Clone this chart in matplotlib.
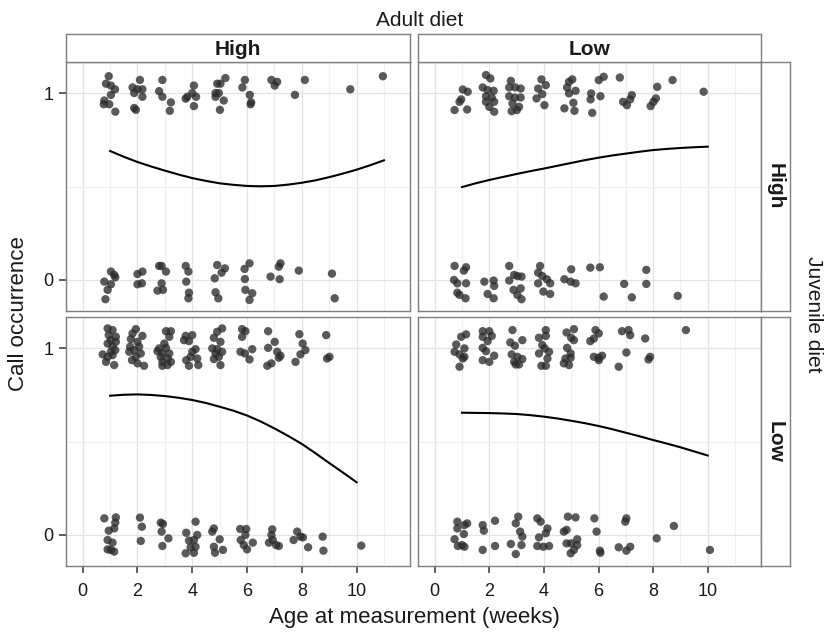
import matplotlib
matplotlib.use('Agg')
import matplotlib.pyplot as plt

plt.rcParams['font.family'] = ['Liberation Sans', 'DejaVu Sans']

# ---------------- data ----------------
adult_levels = ['High', 'Low']
juvenile_levels = ['High', 'Low']
x_ticks = [0, 2, 4, 6, 8, 10]
x_tick_labels = ['0', '2', '4', '6', '8', '10']
y_ticks = [0, 1]
y_tick_labels = ['0', '1']

# jittered observations (age in weeks, call occurrence) per panel
# adult High / juvenile High
pts_aH_jH = [
    (0.95, 1.09), (0.85, 1.05), (1.03, 1.04), (1.18, 1.02), (1.03, 0.99), (0.79, 0.96), (0.77, 0.94),
    (0.97, 0.94), (1.19, 0.90), (2.09, 1.07), (1.82, 1.03), (2.00, 1.02), (2.18, 1.02), (1.88, 1.00),
    (2.18, 0.98), (1.94, 0.91), (1.88, 0.92), (2.91, 1.07), (2.79, 1.01), (2.91, 0.98), (3.22, 0.95),
    (3.18, 0.905), (4.06, 1.04), (3.82, 0.98), (4.00, 1.00), (4.14, 0.98), (4.06, 0.93), (3.76, 0.97),
    (4.91, 1.05), (5.03, 1.05), (5.21, 1.08), (4.85, 1.00), (4.97, 1.00), (4.85, 0.98), (5.15, 0.96),
    (5.01, 0.91), (5.92, 1.07), (5.83, 1.03), (6.10, 0.99), (6.15, 0.95), (6.13, 0.94), (6.89, 1.07),
    (7.10, 1.06), (7.01, 1.04), (8.11, 1.07), (7.75, 0.99), (9.77, 1.02), (10.96, 1.09),
    (1.03, 0.045), (1.15, 0.027), (1.19, 0.014), (0.79, -0.009), (1.03, -0.023), (0.91, -0.053),
    (0.83, -0.103), (2.00, 0.032), (2.18, 0.045), (2.00, -0.023), (2.16, -0.018), (2.79, 0.075),
    (2.88, 0.075), (3.04, 0.045), (2.88, -0.018), (2.73, -0.057), (2.93, -0.053), (3.76, 0.075),
    (3.86, 0.045), (3.78, -0.009), (3.88, -0.068), (3.86, -0.098), (4.91, 0.080), (5.19, 0.062),
    (5.07, 0.039), (4.82, 0.009), (4.85, -0.066), (4.95, -0.098), (5.91, 0.059), (6.09, 0.089),
    (5.92, 0.005), (5.94, -0.053), (6.19, -0.071), (6.09, -0.107), (6.86, 0.018), (7.16, 0.071),
    (7.22, 0.089), (7.19, 0.004), (7.89, 0.050), (9.10, 0.034), (9.20, -0.098),
]

# adult Low / juvenile High
pts_aL_jH = [
    (1.88, 1.096), (2.04, 1.078), (1.03, 1.019), (1.21, 1.007), (0.97, 0.966), (0.91, 0.953),
    (0.73, 0.909), (1.19, 0.912), (1.76, 1.030), (1.94, 1.016), (2.16, 1.012), (1.88, 0.983),
    (2.09, 0.976), (2.18, 0.953), (1.88, 0.953), (2.00, 0.926), (2.18, 0.900), (2.79, 1.065),
    (2.73, 1.030), (2.95, 1.030), (3.15, 1.024), (2.73, 0.983), (2.94, 0.976), (3.15, 0.976),
    (2.85, 0.944), (3.09, 0.926), (2.82, 0.903), (3.01, 0.909), (3.91, 1.073), (4.07, 1.042),
    (3.79, 1.024), (3.94, 0.994), (3.73, 0.971), (4.02, 0.935), (4.92, 1.060), (5.04, 1.073),
    (4.85, 1.030), (5.16, 1.012), (4.92, 0.998), (5.08, 0.948), (4.75, 0.918), (5.12, 0.905),
    (6.01, 1.069), (6.19, 1.087), (5.73, 0.998), (6.07, 0.983), (5.71, 0.966), (5.77, 0.894),
    (6.78, 1.083), (6.90, 0.953), (7.04, 0.935), (7.22, 0.989), (7.16, 0.966), (8.15, 1.033),
    (8.71, 1.069), (8.10, 0.971), (8.01, 0.953), (7.91, 0.930), (9.85, 1.007),
    (0.73, 0.075), (1.15, 0.068), (1.07, 0.050), (0.71, 0.000), (0.83, -0.018), (1.15, -0.018),
    (0.83, -0.068), (0.91, -0.080), (1.13, -0.098), (1.82, -0.009), (2.16, -0.003), (2.18, -0.032),
    (1.94, -0.075), (2.16, -0.098), (2.73, 0.075), (2.91, 0.027), (3.18, 0.018), (3.03, 0.021),
    (2.73, -0.003), (2.89, -0.053), (3.15, -0.045), (3.03, -0.080), (3.18, -0.103), (3.86, 0.075),
    (3.79, 0.039), (3.94, 0.021), (3.79, -0.018), (4.11, 0.004), (4.23, -0.018), (3.98, -0.062),
    (4.23, -0.075), (4.75, 0.004), (5.00, 0.057), (4.98, -0.009), (5.16, -0.018), (5.70, 0.066),
    (6.05, 0.068), (6.19, -0.089), (6.94, -0.021), (7.22, -0.093), (7.75, 0.054), (7.75, -0.021),
    (8.90, -0.085),
]

# adult High / juvenile Low
pts_aH_jL = [
    (0.91, 1.105), (1.09, 1.096), (0.95, 1.069), (1.21, 1.060), (1.03, 1.042), (0.91, 1.024),
    (1.21, 1.033), (1.09, 1.007), (1.19, 0.989), (0.73, 0.966), (0.91, 0.953), (1.09, 0.962),
    (0.85, 0.926), (1.15, 0.909), (1.03, 0.980),
    (1.94, 1.101), (1.82, 1.078), (2.18, 1.065), (1.76, 1.048), (2.00, 1.033), (1.73, 1.007),
    (2.06, 1.007), (1.88, 0.989), (1.70, 0.980), (2.12, 0.971), (1.94, 0.953), (1.80, 0.935),
    (2.00, 0.918), (2.24, 0.905),
    (3.04, 1.090), (3.22, 1.090), (3.16, 1.060), (2.98, 1.024), (2.79, 0.998), (3.04, 1.001),
    (2.73, 0.983), (2.91, 0.971), (3.16, 0.971), (2.85, 0.953), (3.10, 0.944), (2.91, 0.926),
    (3.22, 0.926), (2.91, 0.905), (3.10, 0.909),
    (3.76, 1.065), (4.00, 1.069), (3.88, 1.037), (3.70, 1.042), (4.12, 0.994), (4.00, 0.980),
    (3.94, 0.953), (3.78, 0.935), (4.18, 0.944), (3.88, 0.905), (4.22, 0.909),
    (5.09, 1.105), (4.91, 1.087), (4.79, 1.055), (5.03, 1.033), (4.73, 0.998), (4.91, 0.994),
    (5.09, 0.980), (4.79, 0.941), (4.97, 0.953), (5.03, 0.909), (4.85, 0.971),
    (5.82, 1.101), (5.94, 1.090), (5.82, 1.060), (5.76, 0.980), (5.92, 0.971), (6.19, 0.994),
    (6.09, 0.939),
    (6.77, 1.090), (7.01, 1.033), (6.77, 1.001), (7.10, 0.980), (7.22, 0.959), (6.89, 0.918),
    (6.74, 0.905), (7.16, 0.948),
    (7.91, 1.074), (8.03, 1.024), (8.13, 0.989), (7.95, 0.966), (7.77, 0.926),
    (8.89, 1.069), (9.01, 0.953), (8.92, 0.944),
    (0.79, 0.089), (1.21, 0.094), (1.19, 0.066), (1.15, 0.035), (0.95, 0.023), (0.91, -0.027),
    (1.09, -0.041), (0.91, -0.077), (1.15, -0.089), (1.03, -0.080), (2.09, 0.093), (2.16, 0.044),
    (2.12, -0.032), (2.85, 0.066), (2.93, 0.059), (2.88, 0.018), (3.13, -0.018), (2.91, -0.059),
    (3.78, 0.012), (4.12, 0.071), (4.18, 0.000), (3.88, -0.030), (4.06, -0.027), (3.94, -0.066),
    (4.12, -0.063), (3.76, -0.098), (4.06, -0.095), (4.73, 0.018), (4.79, 0.035), (5.00, -0.023),
    (4.79, -0.063), (5.12, -0.080), (4.83, -0.095), (5.75, 0.032), (5.97, 0.032), (5.94, 0.000),
    (5.77, -0.027), (5.88, -0.054), (6.21, -0.041), (6.00, -0.077), (6.92, 0.030), (6.89, 0.000),
    (6.94, -0.027), (6.80, -0.041), (7.06, -0.054), (7.16, -0.059), (7.83, 0.018), (7.95, -0.009),
    (8.04, -0.013), (7.70, -0.027), (8.23, -0.066), (8.76, -0.009), (8.79, -0.084), (10.17, -0.057),
]

# adult Low / juvenile Low
pts_aL_jL = [
    (1.15, 1.073), (0.97, 1.060), (0.79, 1.019), (1.09, 0.998), (0.73, 0.980), (0.91, 0.966),
    (1.09, 0.953), (1.03, 0.944), (0.91, 0.900),
    (1.76, 1.090), (2.00, 1.090), (2.09, 1.065), (1.76, 1.060), (1.94, 1.037), (1.76, 1.001),
    (1.88, 0.983), (2.18, 0.959), (1.76, 0.935), (2.00, 0.926),
    (2.85, 1.096), (2.77, 1.030), (2.94, 1.012), (3.21, 1.042), (2.82, 0.966), (3.03, 0.953),
    (3.21, 0.941), (2.91, 0.926), (3.09, 0.912), (2.97, 0.912),
    (4.07, 1.096), (4.07, 1.065), (3.82, 1.055), (3.94, 1.016), (4.03, 0.998), (3.82, 0.971),
    (4.19, 0.980), (4.13, 0.944), (3.91, 0.905), (4.07, 0.905),
    (5.10, 1.101), (4.83, 1.083), (5.00, 1.055), (5.10, 1.042), (4.85, 1.001), (4.98, 0.971),
    (4.79, 0.944), (4.98, 0.948), (4.73, 0.918), (4.92, 0.909),
    (5.89, 1.096), (6.01, 1.078), (5.83, 1.051), (5.70, 1.037), (5.83, 0.953), (6.01, 0.948),
    (6.13, 0.959), (6.01, 0.935),
    (6.86, 1.090), (7.10, 1.096), (7.16, 1.069), (7.02, 0.976), (6.74, 0.900),
    (7.71, 1.051), (7.89, 0.953), (7.83, 0.939),
    (9.20, 1.096),
    (0.83, 0.071), (1.19, 0.062), (1.09, 0.053), (0.83, 0.035), (1.07, 0.005), (0.73, -0.023),
    (0.85, -0.059), (1.09, -0.063), (1.00, -0.054), (1.76, 0.053), (1.80, 0.023), (1.76, -0.080),
    (2.21, 0.076), (2.21, -0.059), (3.06, 0.098), (2.97, 0.062), (3.13, 0.018), (3.21, -0.009),
    (2.79, -0.048), (3.18, -0.054), (2.97, -0.102), (3.76, 0.089), (3.88, 0.071), (4.13, 0.035),
    (4.07, 0.009), (3.82, -0.013), (3.76, -0.059), (3.98, -0.063), (4.19, -0.059), (4.88, 0.098),
    (5.16, 0.094), (4.73, 0.018), (4.83, 0.027), (4.83, -0.045), (5.00, -0.045), (5.22, -0.023),
    (5.22, -0.054), (5.10, -0.080), (4.98, -0.098), (5.85, 0.089), (5.93, 0.018), (6.05, -0.084),
    (6.07, -0.095), (6.74, -0.066), (7.02, 0.089), (6.98, 0.071), (7.16, -0.063), (7.02, -0.084),
    (8.13, -0.018), (8.76, 0.048), (10.08, -0.080),
]

# fitted probability curves (every half week)
curve_age_aH_jH = [1, 1.5, 2, 2.5, 3, 3.5, 4, 4.5, 5, 5.5, 6, 6.5, 7, 7.5, 8, 8.5, 9, 9.5, 10, 10.5, 11]
curve_p_aH_jH = [0.69, 0.659, 0.631, 0.607, 0.585, 0.564, 0.545, 0.53, 0.517, 0.509, 0.503, 0.501,
                 0.503, 0.51, 0.52, 0.533, 0.55, 0.569, 0.59, 0.614, 0.64]
curve_age_aL_jH = [1, 1.5, 2, 2.5, 3, 3.5, 4, 4.5, 5, 5.5, 6, 6.5, 7, 7.5, 8, 8.5, 9, 9.5, 10]
curve_p_aL_jH = [0.497, 0.517, 0.535, 0.551, 0.567, 0.582, 0.596, 0.611, 0.626, 0.641, 0.654,
                 0.666, 0.676, 0.686, 0.695, 0.701, 0.706, 0.71, 0.713]
curve_age_aH_jL = [1, 1.5, 2, 2.5, 3, 3.5, 4, 4.5, 5, 5.5, 6, 6.5, 7, 7.5, 8, 8.5, 9, 9.5, 10]
curve_p_aH_jL = [0.745, 0.75, 0.752, 0.749, 0.743, 0.734, 0.722, 0.706, 0.686, 0.665, 0.639,
                 0.607, 0.57, 0.53, 0.487, 0.437, 0.385, 0.334, 0.282]
curve_age_aL_jL = [1, 1.5, 2, 2.5, 3, 3.5, 4, 4.5, 5, 5.5, 6, 6.5, 7, 7.5, 8, 8.5, 9, 9.5, 10]
curve_p_aL_jL = [0.654, 0.653, 0.652, 0.65, 0.647, 0.641, 0.633, 0.623, 0.611, 0.598, 0.583,
                 0.566, 0.547, 0.528, 0.508, 0.489, 0.469, 0.447, 0.425]

panels = {
    ('High', 'High'): (pts_aH_jH, curve_age_aH_jH, curve_p_aH_jH),
    ('Low', 'High'): (pts_aL_jH, curve_age_aL_jH, curve_p_aL_jH),
    ('High', 'Low'): (pts_aH_jL, curve_age_aH_jL, curve_p_aH_jL),
    ('Low', 'Low'): (pts_aL_jL, curve_age_aL_jL, curve_p_aL_jL),
}

# ---------------- layout ----------------
W, H = 830, 632
fig = plt.figure(figsize=(W / 100, H / 100), dpi=100)
fig.patch.set_facecolor('white')

col_px = [(66, 410), (418, 761)]
row_px = [(62, 311), (317, 566)]
strip_top_px = 34
strip_right_px = (761, 790)

border = '#7f7f7f'
text_col = '#1a1a1a'
tick_col = '#333333'


def rect(x0, y0, x1, y1):
    return [x0 / W, 1 - y1 / H, (x1 - x0) / W, (y1 - y0) / H]


for ci, adult in enumerate(adult_levels):
    for ri, juv in enumerate(juvenile_levels):
        (x0, x1), (y0, y1) = col_px[ci], row_px[ri]
        ax = fig.add_axes(rect(x0, y0, x1, y1))
        pts, cx, cy = panels[(adult, juv)]
        xs = [p[0] for p in pts]
        ys = [p[1] for p in pts]
        ax.scatter(xs, ys, s=36, c='#2b2b2b', alpha=0.78, edgecolors='none', zorder=3)
        ax.plot(cx, cy, color='black', lw=1.5, zorder=4, solid_joinstyle='round')
        ax.set_xlim(-0.61, 11.95)
        ax.set_ylim(-0.166, 1.166)
        ax.set_xticks(x_ticks)
        ax.set_xticks([1, 3, 5, 7, 9, 11], minor=True)
        ax.set_yticks(y_ticks)
        ax.set_yticks([0.5], minor=True)
        ax.set_axisbelow(True)
        ax.grid(which='major', color='#e3e3e3', lw=0.9)
        ax.grid(which='minor', color='#f0f0f0', lw=0.9)
        ax.tick_params(which='minor', length=0)
        for sp in ax.spines.values():
            sp.set_color(border)
            sp.set_linewidth(1.0)
        ax.set_facecolor('white')
        if ri == 1:
            ax.set_xticklabels(x_tick_labels)
            ax.tick_params(axis='x', which='major', length=5, width=1.1, color=tick_col,
                           labelsize=13, labelcolor=text_col, pad=7)
        else:
            ax.tick_params(axis='x', which='major', length=0, labelbottom=False)
        if ci == 0:
            ax.set_yticklabels(y_tick_labels)
            ax.tick_params(axis='y', which='major', length=5, width=1.1, color=tick_col,
                           labelsize=13, labelcolor=text_col, pad=4)
        else:
            ax.tick_params(axis='y', which='major', length=0, labelleft=False)

# top strips (adult diet)
for ci, adult in enumerate(adult_levels):
    x0, x1 = col_px[ci]
    sax = fig.add_axes(rect(x0, strip_top_px, x1, row_px[0][0]))
    sax.set_xticks([])
    sax.set_yticks([])
    sax.set_facecolor('white')
    for sp in sax.spines.values():
        sp.set_color(border)
        sp.set_linewidth(1.0)
    sax.text(0.5, 0.45, adult, ha='center', va='center', fontsize=15,
             fontweight='bold', color=text_col, transform=sax.transAxes)

# right strips (juvenile diet)
for ri, juv in enumerate(juvenile_levels):
    y0, y1 = row_px[ri]
    sax = fig.add_axes(rect(strip_right_px[0], y0, strip_right_px[1], y1))
    sax.set_xticks([])
    sax.set_yticks([])
    sax.set_facecolor('white')
    for sp in sax.spines.values():
        sp.set_color(border)
        sp.set_linewidth(1.0)
    sax.text(0.5, 0.5, juv, ha='center', va='center', fontsize=15, rotation=270,
             fontweight='bold', color=text_col, transform=sax.transAxes)

# labels
fig.text(420 / W, 1 - 26.5 / H, 'Adult diet', ha='center', va='baseline',
         fontsize=15, color=text_col)
fig.text(813 / W, 1 - 314 / H, 'Juvenile diet', ha='center', va='center',
         rotation=270, fontsize=15, color=text_col)
fig.text(18 / W, 1 - 314 / H, 'Call occurrence', ha='center', va='center',
         rotation=90, fontsize=16, color=text_col)
fig.text(414 / W, 1 - 623 / H, 'Age at measurement (weeks)', ha='center',
         va='baseline', fontsize=16, color=text_col)

fig.savefig('out.png', dpi=100, facecolor='white')
